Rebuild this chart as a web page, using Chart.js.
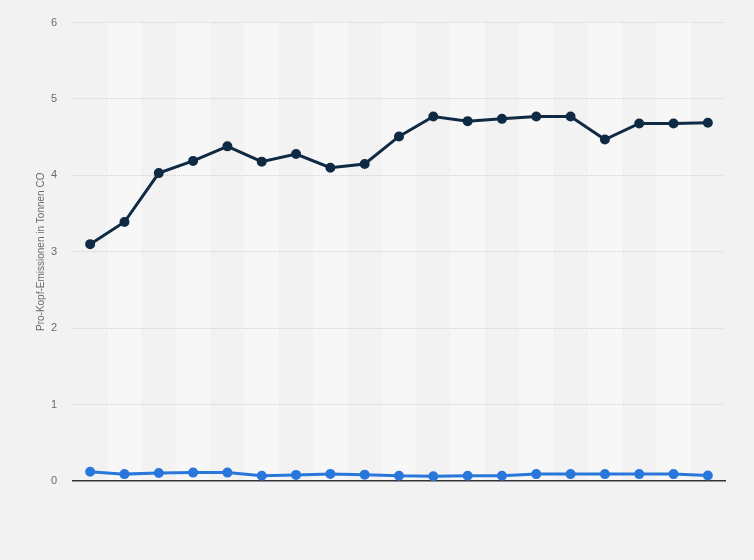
<!DOCTYPE html>
<html>
<head>
<meta charset="utf-8">
<script src="https://cdn.jsdelivr.net/npm/chart.js@4/dist/chart.umd.min.js"></script>
<style>
  html, body { margin: 0; padding: 0; background: #f2f2f2; }
  #wrap { width: 754px; height: 560px; position: relative; }
</style>
</head>
<body>
<div id="wrap"><canvas id="c"></canvas></div>
<script>
// ── Data ──────────────────────────────────────────────────────────────────────
const categories = ['1', '2', '3', '4', '5', '6', '7', '8', '9', '10',
                    '11', '12', '13', '14', '15', '16', '17', '18', '19'];
const seriesA = [3.10, 3.39, 4.03, 4.19, 4.38, 4.18, 4.28, 4.10, 4.15, 4.51,
                 4.77, 4.71, 4.74, 4.77, 4.77, 4.47, 4.68, 4.68, 4.69];
const seriesB = [0.12, 0.09, 0.105, 0.11, 0.11, 0.068, 0.08, 0.093, 0.083, 0.068,
                 0.063, 0.068, 0.068, 0.09, 0.09, 0.09, 0.09, 0.09, 0.072];
const yTicks = [0, 1, 2, 3, 4, 5, 6];

const theme = {
    bg:    '#f2f2f2',
    band:  '#f7f7f7',
    grid:  '#d2d2d2',
    tick:  '#6b6b6b',
    axis:  '#333333',
    dark:  '#0f2a44',
    blue:  '#2a77db',
};

// ── Alternating column bands behind the lines ────────────────────────────────
const bandPlugin = {
    id: 'bands',
    beforeDraw(chart) {
        const { ctx, chartArea, scales: { x } } = chart;
        const step = x.getPixelForValue(1) - x.getPixelForValue(0);
        ctx.save();
        ctx.fillStyle = theme.band;
        categories.forEach((c, i) => {
            if (i % 2 === 1) {
                const cx = x.getPixelForValue(i);
                ctx.fillRect(cx - step / 2, chartArea.top, step, chartArea.bottom - chartArea.top);
            }
        });
        ctx.restore();
    },
};

new Chart(document.getElementById('c'), {
    type: 'line',
    data: {
        labels: categories,
        datasets: [
            { label: 'A', data: seriesA, borderColor: theme.dark, backgroundColor: theme.dark, borderWidth: 3, pointRadius: 3.5, pointHoverRadius: 3.5, tension: 0, fill: false },
            { label: 'B', data: seriesB, borderColor: theme.blue, backgroundColor: theme.blue, borderWidth: 3, pointRadius: 3.5, pointHoverRadius: 3.5, tension: 0, fill: false },
        ],
    },
    plugins: [bandPlugin],
    options: {
        responsive: true, maintainAspectRatio: false, animation: false,
        layout: { padding: { top: 19, right: 29, bottom: 79, left: 0 } },
        plugins: { legend: { display: false }, tooltip: { enabled: false } },
        scales: {
            x: {
                type: 'category', offset: true,
                grid: { display: false, drawTicks: false },
                border: { display: true, color: theme.axis, width: 1.5 },
                ticks: { display: false },
            },
            y: {
                min: 0, max: 6,
                afterFit: s => { s.width = 73; },
                afterBuildTicks: s => { s.ticks = yTicks.map(v => ({ value: v })); },
                grid: { color: ctx => ctx.tick && ctx.tick.value === 0 ? 'rgba(0,0,0,0)' : theme.grid, drawTicks: false, lineWidth: 1 },
                border: { display: false, dash: [1, 1] },
                ticks: { color: theme.tick, padding: 16, font: { family: 'Liberation Sans, Arial', size: 11 } },
                title: { display: true, text: 'Pro-Kopf-Emissionen in Tonnen CO', color: theme.tick, padding: { top: 35, bottom: 0 }, font: { family: 'Liberation Sans, Arial', size: 10 } },
            },
        },
    },
});
</script>
</body>
</html>
